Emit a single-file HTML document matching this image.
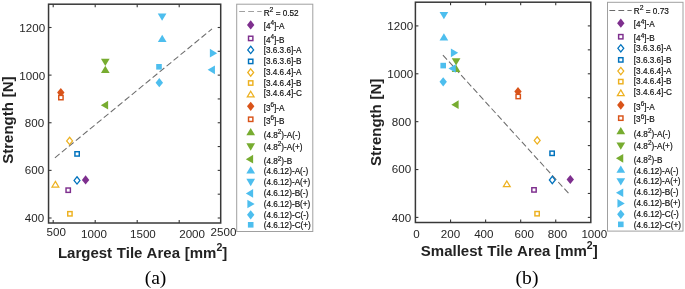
<!DOCTYPE html>
<html><head><meta charset="utf-8"><style>
html,body{margin:0;padding:0;background:#fff;}
svg{display:block;will-change:transform;}
.tk{font-family:"Liberation Sans",sans-serif;font-size:11.6px;fill:#262626;}
.lg{font-family:"Liberation Sans",sans-serif;font-size:8.2px;fill:#111;stroke:#111;stroke-width:0.18px;}
.lb{font-family:"Liberation Sans",sans-serif;font-size:15px;font-weight:bold;fill:#222;word-spacing:0.6px;}
.cap{font-family:"Liberation Serif",serif;font-size:19.6px;fill:#000;}
</style></head><body>
<svg width="685" height="289" viewBox="0 0 685 289">
<rect width="685" height="289" fill="#fff"/>
<path d="M54.9 157.8L212.0 28.9" stroke="#6c6c6c" stroke-width="1.05" stroke-dasharray="6.1 2.93" stroke-dashoffset="0.0" fill="none"/>
<path d="M85.60 175.30L89.30 179.90L85.60 184.50L81.90 179.90Z" fill="#7E2F8E"/>
<rect x="66.03" y="188.02" width="4.35" height="4.35" fill="#fff" stroke="#7E2F8E" stroke-width="1.45"/>
<path d="M77.00 176.74L79.95 180.40L77.00 184.06L74.05 180.40Z" fill="#fff" stroke="#0072BD" stroke-width="1.25"/>
<rect x="74.92" y="151.72" width="4.35" height="4.35" fill="#fff" stroke="#0072BD" stroke-width="1.45"/>
<path d="M69.60 137.24L72.55 140.90L69.60 144.56L66.65 140.90Z" fill="#fff" stroke="#EDB120" stroke-width="1.25"/>
<rect x="67.73" y="211.62" width="4.35" height="4.35" fill="#fff" stroke="#EDB120" stroke-width="1.45"/>
<path d="M55.40 181.35L58.79 187.05L52.01 187.05Z" fill="#fff" stroke="#EDB120" stroke-width="1.25" stroke-linejoin="miter"/>
<path d="M60.80 88.00L64.50 92.60L60.80 97.20L57.10 92.60Z" fill="#D95319"/>
<rect x="58.73" y="95.42" width="4.35" height="4.35" fill="#fff" stroke="#D95319" stroke-width="1.45"/>
<path d="M105.30 65.75L109.65 73.05L100.95 73.05Z" fill="#77AC30"/>
<path d="M105.30 66.05L109.65 58.75L100.95 58.75Z" fill="#77AC30"/>
<path d="M100.85 105.20L108.15 100.85L108.15 109.55Z" fill="#77AC30"/>
<path d="M162.20 34.75L166.55 42.05L157.85 42.05Z" fill="#4DBEEE"/>
<path d="M162.10 20.85L166.45 13.55L157.75 13.55Z" fill="#4DBEEE"/>
<path d="M207.65 69.80L214.95 65.45L214.95 74.15Z" fill="#4DBEEE"/>
<path d="M217.15 53.20L209.85 48.85L209.85 57.55Z" fill="#4DBEEE"/>
<path d="M159.30 78.10L163.00 82.70L159.30 87.30L155.60 82.70Z" fill="#4DBEEE"/>
<rect x="156.20" y="64.00" width="5.60" height="5.60" fill="#4DBEEE"/>
<rect x="48.55" y="4.2" width="172.15" height="218.80" fill="none" stroke="#383838" stroke-width="1.5"/>
<path d="M53.20 223.0V220.0M53.20 4.2V7.2" stroke="#383838" stroke-width="1.1"/>
<path d="M95.20 223.0V220.0M95.20 4.2V7.2" stroke="#383838" stroke-width="1.1"/>
<path d="M137.20 223.0V220.0M137.20 4.2V7.2" stroke="#383838" stroke-width="1.1"/>
<path d="M179.20 223.0V220.0M179.20 4.2V7.2" stroke="#383838" stroke-width="1.1"/>
<path d="M48.55 218.00H51.55" stroke="#383838" stroke-width="1.1"/>
<path d="M48.55 170.38H51.55" stroke="#383838" stroke-width="1.1"/>
<path d="M48.55 122.75H51.55" stroke="#383838" stroke-width="1.1"/>
<path d="M48.55 75.12H51.55" stroke="#383838" stroke-width="1.1"/>
<path d="M48.55 27.50H51.55" stroke="#383838" stroke-width="1.1"/>
<path d="M220.7 218.00H217.7" stroke="#383838" stroke-width="1.1"/>
<path d="M220.7 194.19H217.7" stroke="#383838" stroke-width="1.1"/>
<path d="M220.7 170.38H217.7" stroke="#383838" stroke-width="1.1"/>
<path d="M220.7 146.56H217.7" stroke="#383838" stroke-width="1.1"/>
<path d="M220.7 122.75H217.7" stroke="#383838" stroke-width="1.1"/>
<path d="M220.7 98.94H217.7" stroke="#383838" stroke-width="1.1"/>
<path d="M220.7 75.12H217.7" stroke="#383838" stroke-width="1.1"/>
<path d="M220.7 51.31H217.7" stroke="#383838" stroke-width="1.1"/>
<path d="M220.7 27.50H217.7" stroke="#383838" stroke-width="1.1"/>
<text x="44.1" y="221.9" class="tk" text-anchor="end">400</text>
<text x="44.1" y="174.3" class="tk" text-anchor="end">600</text>
<text x="44.1" y="126.75" class="tk" text-anchor="end">800</text>
<text x="45.1" y="79.5" class="tk" text-anchor="end">1000</text>
<text x="45.1" y="32.35" class="tk" text-anchor="end">1200</text>
<text x="56.2" y="236.1" class="tk" text-anchor="middle">500</text>
<text x="94.0" y="237.8" class="tk" text-anchor="middle">1000</text>
<text x="142.9" y="237.7" class="tk" text-anchor="middle">1500</text>
<text x="192.1" y="237.7" class="tk" text-anchor="middle">2000</text>
<text x="223.5" y="235.8" class="tk" text-anchor="middle">2500</text>
<text transform="translate(12.6,120.1) rotate(-90)" class="lb" text-anchor="middle">Strength [N]</text>
<text x="57.9" y="257.9" class="lb">Largest Tile Area [mm<tspan dy="-6.9" font-size="10.5">2</tspan><tspan dy="6.9">]</tspan></text>
<text x="155.5" y="284.2" class="cap" text-anchor="middle">(a)</text>
<rect x="236.7" y="4.2" width="76.10" height="227.30" fill="#fff" stroke="#a0a0a0" stroke-width="1"/>
<path d="M239.20 11.50H261.70" stroke="#a0a0a0" stroke-width="1" stroke-dasharray="5.8 3.2"/>
<text x="263.70" y="16.20" class="lg">R<tspan dy="-4.3" font-size="6.8">2</tspan><tspan dy="4.3"> = 0.52</tspan></text>
<path d="M250.70 20.30L254.40 24.90L250.70 29.50L247.00 24.90Z" fill="#7E2F8E"/>
<text x="263.70" y="29.00" class="lg">[4<tspan dy="-3.7" font-size="6.4">4</tspan><tspan dy="3.7">]-A</tspan></text>
<rect x="248.52" y="36.23" width="4.35" height="4.35" fill="#fff" stroke="#7E2F8E" stroke-width="1.45"/>
<text x="263.70" y="43.10" class="lg">[4<tspan dy="-3.7" font-size="6.4">4</tspan><tspan dy="3.7">]-B</tspan></text>
<path d="M250.70 46.24L253.65 49.90L250.70 53.56L247.75 49.90Z" fill="#fff" stroke="#0072BD" stroke-width="1.25"/>
<text x="263.70" y="52.90" class="lg">[3.6.3.6]-A</text>
<rect x="248.52" y="59.23" width="4.35" height="4.35" fill="#fff" stroke="#0072BD" stroke-width="1.45"/>
<text x="263.70" y="64.30" class="lg">[3.6.3.6]-B</text>
<path d="M250.70 68.84L253.65 72.50L250.70 76.16L247.75 72.50Z" fill="#fff" stroke="#EDB120" stroke-width="1.25"/>
<text x="263.70" y="75.20" class="lg">[3.4.6.4]-A</text>
<rect x="248.52" y="80.83" width="4.35" height="4.35" fill="#fff" stroke="#EDB120" stroke-width="1.45"/>
<text x="263.70" y="85.50" class="lg">[3.4.6.4]-B</text>
<path d="M250.70 91.25L254.09 96.95L247.31 96.95Z" fill="#fff" stroke="#EDB120" stroke-width="1.25" stroke-linejoin="miter"/>
<text x="263.70" y="96.00" class="lg">[3.4.6.4]-C</text>
<path d="M250.70 101.70L254.40 106.30L250.70 110.90L247.00 106.30Z" fill="#D95319"/>
<text x="263.70" y="111.00" class="lg">[3<tspan dy="-3.7" font-size="6.4">6</tspan><tspan dy="3.7">]-A</tspan></text>
<rect x="248.52" y="117.12" width="4.35" height="4.35" fill="#fff" stroke="#D95319" stroke-width="1.45"/>
<text x="263.70" y="123.50" class="lg">[3<tspan dy="-3.7" font-size="6.4">6</tspan><tspan dy="3.7">]-B</tspan></text>
<path d="M250.70 128.05L255.05 135.35L246.35 135.35Z" fill="#77AC30"/>
<text x="263.70" y="138.00" class="lg">(4.8<tspan dy="-3.7" font-size="6.4">2</tspan><tspan dy="3.7">)-A(-)</tspan></text>
<path d="M250.70 150.65L255.05 143.35L246.35 143.35Z" fill="#77AC30"/>
<text x="263.70" y="150.10" class="lg">(4.8<tspan dy="-3.7" font-size="6.4">2</tspan><tspan dy="3.7">)-A(+)</tspan></text>
<path d="M245.85 159.20L253.15 154.85L253.15 163.55Z" fill="#77AC30"/>
<text x="263.70" y="164.20" class="lg">(4.8<tspan dy="-3.7" font-size="6.4">2</tspan><tspan dy="3.7">)-B</tspan></text>
<path d="M250.70 166.25L255.05 173.55L246.35 173.55Z" fill="#4DBEEE"/>
<text x="263.70" y="174.30" class="lg">(4.6.12)-A(-)</text>
<path d="M250.70 186.15L255.05 178.85L246.35 178.85Z" fill="#4DBEEE"/>
<text x="263.70" y="185.20" class="lg">(4.6.12)-A(+)</text>
<path d="M245.85 193.40L253.15 189.05L253.15 197.75Z" fill="#4DBEEE"/>
<text x="263.70" y="195.50" class="lg">(4.6.12)-B(-)</text>
<path d="M254.65 204.00L247.35 199.65L247.35 208.35Z" fill="#4DBEEE"/>
<text x="263.70" y="206.70" class="lg">(4.6.12)-B(+)</text>
<path d="M250.70 210.20L254.40 214.80L250.70 219.40L247.00 214.80Z" fill="#4DBEEE"/>
<text x="263.70" y="217.90" class="lg">(4.6.12)-C(-)</text>
<rect x="247.90" y="222.00" width="5.60" height="5.60" fill="#4DBEEE"/>
<text x="263.70" y="228.30" class="lg">(4.6.12)-C(+)</text>
<path d="M442.8 54.9L568.8 193.6" stroke="#6c6c6c" stroke-width="1.05" stroke-dasharray="6.1 2.93" stroke-dashoffset="-0.17" fill="none"/>
<path d="M570.30 174.90L574.00 179.50L570.30 184.10L566.60 179.50Z" fill="#7E2F8E"/>
<rect x="531.83" y="187.72" width="4.35" height="4.35" fill="#fff" stroke="#7E2F8E" stroke-width="1.45"/>
<path d="M552.30 176.34L555.25 180.00L552.30 183.66L549.35 180.00Z" fill="#fff" stroke="#0072BD" stroke-width="1.25"/>
<rect x="549.93" y="151.12" width="4.35" height="4.35" fill="#fff" stroke="#0072BD" stroke-width="1.45"/>
<path d="M537.20 136.74L540.15 140.40L537.20 144.06L534.25 140.40Z" fill="#fff" stroke="#EDB120" stroke-width="1.25"/>
<rect x="534.93" y="211.52" width="4.35" height="4.35" fill="#fff" stroke="#EDB120" stroke-width="1.45"/>
<path d="M506.80 180.95L510.19 186.65L503.41 186.65Z" fill="#fff" stroke="#EDB120" stroke-width="1.25" stroke-linejoin="miter"/>
<path d="M518.00 86.90L521.70 91.50L518.00 96.10L514.30 91.50Z" fill="#D95319"/>
<rect x="516.03" y="94.33" width="4.35" height="4.35" fill="#fff" stroke="#D95319" stroke-width="1.45"/>
<path d="M456.10 64.75L460.45 72.05L451.75 72.05Z" fill="#77AC30"/>
<path d="M456.10 65.45L460.45 58.15L451.75 58.15Z" fill="#77AC30"/>
<path d="M451.35 104.70L458.65 100.35L458.65 109.05Z" fill="#77AC30"/>
<path d="M443.90 33.25L448.25 40.55L439.55 40.55Z" fill="#4DBEEE"/>
<path d="M443.90 19.35L448.25 12.05L439.55 12.05Z" fill="#4DBEEE"/>
<path d="M448.45 68.50L455.75 64.15L455.75 72.85Z" fill="#4DBEEE"/>
<path d="M458.15 52.80L450.85 48.45L450.85 57.15Z" fill="#4DBEEE"/>
<path d="M443.20 77.20L446.90 81.80L443.20 86.40L439.50 81.80Z" fill="#4DBEEE"/>
<rect x="440.40" y="62.80" width="5.60" height="5.60" fill="#4DBEEE"/>
<rect x="415.4" y="2.2" width="175.40" height="220.30" fill="none" stroke="#383838" stroke-width="1.5"/>
<path d="M450.56 222.5V219.5M450.56 2.2V5.2" stroke="#383838" stroke-width="1.1"/>
<path d="M485.62 222.5V219.5M485.62 2.2V5.2" stroke="#383838" stroke-width="1.1"/>
<path d="M520.68 222.5V219.5M520.68 2.2V5.2" stroke="#383838" stroke-width="1.1"/>
<path d="M555.74 222.5V219.5M555.74 2.2V5.2" stroke="#383838" stroke-width="1.1"/>
<path d="M415.4 217.40H418.4" stroke="#383838" stroke-width="1.1"/>
<path d="M415.4 169.53H418.4" stroke="#383838" stroke-width="1.1"/>
<path d="M415.4 121.65H418.4" stroke="#383838" stroke-width="1.1"/>
<path d="M415.4 73.78H418.4" stroke="#383838" stroke-width="1.1"/>
<path d="M415.4 25.90H418.4" stroke="#383838" stroke-width="1.1"/>
<path d="M590.8 217.40H587.8" stroke="#383838" stroke-width="1.1"/>
<path d="M590.8 193.46H587.8" stroke="#383838" stroke-width="1.1"/>
<path d="M590.8 169.53H587.8" stroke="#383838" stroke-width="1.1"/>
<path d="M590.8 145.59H587.8" stroke="#383838" stroke-width="1.1"/>
<path d="M590.8 121.65H587.8" stroke="#383838" stroke-width="1.1"/>
<path d="M590.8 97.71H587.8" stroke="#383838" stroke-width="1.1"/>
<path d="M590.8 73.78H587.8" stroke="#383838" stroke-width="1.1"/>
<path d="M590.8 49.84H587.8" stroke="#383838" stroke-width="1.1"/>
<path d="M590.8 25.90H587.8" stroke="#383838" stroke-width="1.1"/>
<text x="411.2" y="221.6" class="tk" text-anchor="end">400</text>
<text x="411.2" y="173.3" class="tk" text-anchor="end">600</text>
<text x="411.2" y="125.65" class="tk" text-anchor="end">800</text>
<text x="413.1" y="78.15" class="tk" text-anchor="end">1000</text>
<text x="413.1" y="30.05" class="tk" text-anchor="end">1200</text>
<text x="416.5" y="237.5" class="tk" text-anchor="middle">0</text>
<text x="450.5" y="237.7" class="tk" text-anchor="middle">200</text>
<text x="483.8" y="237.7" class="tk" text-anchor="middle">400</text>
<text x="524.2" y="237.7" class="tk" text-anchor="middle">600</text>
<text x="557.5" y="237.7" class="tk" text-anchor="middle">800</text>
<text x="594.3" y="237.7" class="tk" text-anchor="middle">1000</text>
<text transform="translate(381.3,122.3) rotate(-90)" class="lb" text-anchor="middle">Strength [N]</text>
<text x="420.8" y="255.6" class="lb">Smallest Tile Area [mm<tspan dy="-6.9" font-size="10.5">2</tspan><tspan dy="6.9">]</tspan></text>
<text x="527.0" y="283.8" class="cap" text-anchor="middle">(b)</text>
<rect x="607.5" y="2.3" width="75.50" height="228.80" fill="#fff" stroke="#a0a0a0" stroke-width="1"/>
<path d="M609.40 10.50H631.70" stroke="#6a6a6a" stroke-width="1" stroke-dasharray="5.8 3.2"/>
<text x="633.80" y="14.38" class="lg">R<tspan dy="-4.3" font-size="6.8">2</tspan><tspan dy="4.3"> = 0.73</tspan></text>
<path d="M620.80 18.54L624.50 23.14L620.80 27.74L617.10 23.14Z" fill="#7E2F8E"/>
<text x="633.80" y="27.26" class="lg">[4<tspan dy="-3.7" font-size="6.4">4</tspan><tspan dy="3.7">]-A</tspan></text>
<rect x="618.62" y="34.55" width="4.35" height="4.35" fill="#fff" stroke="#7E2F8E" stroke-width="1.45"/>
<text x="633.80" y="41.45" class="lg">[4<tspan dy="-3.7" font-size="6.4">4</tspan><tspan dy="3.7">]-B</tspan></text>
<path d="M620.80 44.64L623.75 48.30L620.80 51.96L617.85 48.30Z" fill="#fff" stroke="#0072BD" stroke-width="1.25"/>
<text x="633.80" y="51.32" class="lg">[3.6.3.6]-A</text>
<rect x="618.62" y="57.70" width="4.35" height="4.35" fill="#fff" stroke="#0072BD" stroke-width="1.45"/>
<text x="633.80" y="62.79" class="lg">[3.6.3.6]-B</text>
<path d="M620.80 67.39L623.75 71.05L620.80 74.71L617.85 71.05Z" fill="#fff" stroke="#EDB120" stroke-width="1.25"/>
<text x="633.80" y="73.77" class="lg">[3.4.6.4]-A</text>
<rect x="618.62" y="79.45" width="4.35" height="4.35" fill="#fff" stroke="#EDB120" stroke-width="1.45"/>
<text x="633.80" y="84.13" class="lg">[3.4.6.4]-B</text>
<path d="M620.80 89.94L624.19 95.64L617.41 95.64Z" fill="#fff" stroke="#EDB120" stroke-width="1.25" stroke-linejoin="miter"/>
<text x="633.80" y="94.70" class="lg">[3.4.6.4]-C</text>
<path d="M620.80 100.47L624.50 105.07L620.80 109.67L617.10 105.07Z" fill="#D95319"/>
<text x="633.80" y="109.80" class="lg">[3<tspan dy="-3.7" font-size="6.4">6</tspan><tspan dy="3.7">]-A</tspan></text>
<rect x="618.62" y="115.98" width="4.35" height="4.35" fill="#fff" stroke="#D95319" stroke-width="1.45"/>
<text x="633.80" y="122.38" class="lg">[3<tspan dy="-3.7" font-size="6.4">6</tspan><tspan dy="3.7">]-B</tspan></text>
<path d="M620.80 126.99L625.15 134.29L616.45 134.29Z" fill="#77AC30"/>
<text x="633.80" y="136.98" class="lg">(4.8<tspan dy="-3.7" font-size="6.4">2</tspan><tspan dy="3.7">)-A(-)</tspan></text>
<path d="M620.80 149.69L625.15 142.39L616.45 142.39Z" fill="#77AC30"/>
<text x="633.80" y="149.16" class="lg">(4.8<tspan dy="-3.7" font-size="6.4">2</tspan><tspan dy="3.7">)-A(+)</tspan></text>
<path d="M615.95 158.32L623.25 153.97L623.25 162.67Z" fill="#77AC30"/>
<text x="633.80" y="163.35" class="lg">(4.8<tspan dy="-3.7" font-size="6.4">2</tspan><tspan dy="3.7">)-B</tspan></text>
<path d="M620.80 165.44L625.15 172.74L616.45 172.74Z" fill="#4DBEEE"/>
<text x="633.80" y="173.52" class="lg">(4.6.12)-A(-)</text>
<path d="M620.80 185.43L625.15 178.13L616.45 178.13Z" fill="#4DBEEE"/>
<text x="633.80" y="184.49" class="lg">(4.6.12)-A(+)</text>
<path d="M615.95 192.75L623.25 188.40L623.25 197.10Z" fill="#4DBEEE"/>
<text x="633.80" y="194.86" class="lg">(4.6.12)-B(-)</text>
<path d="M624.75 203.42L617.45 199.07L617.45 207.77Z" fill="#4DBEEE"/>
<text x="633.80" y="206.13" class="lg">(4.6.12)-B(+)</text>
<path d="M620.80 209.69L624.50 214.29L620.80 218.89L617.10 214.29Z" fill="#4DBEEE"/>
<text x="633.80" y="217.41" class="lg">(4.6.12)-C(-)</text>
<rect x="618.00" y="221.56" width="5.60" height="5.60" fill="#4DBEEE"/>
<text x="633.80" y="227.88" class="lg">(4.6.12)-C(+)</text>
</svg>
</body></html>
